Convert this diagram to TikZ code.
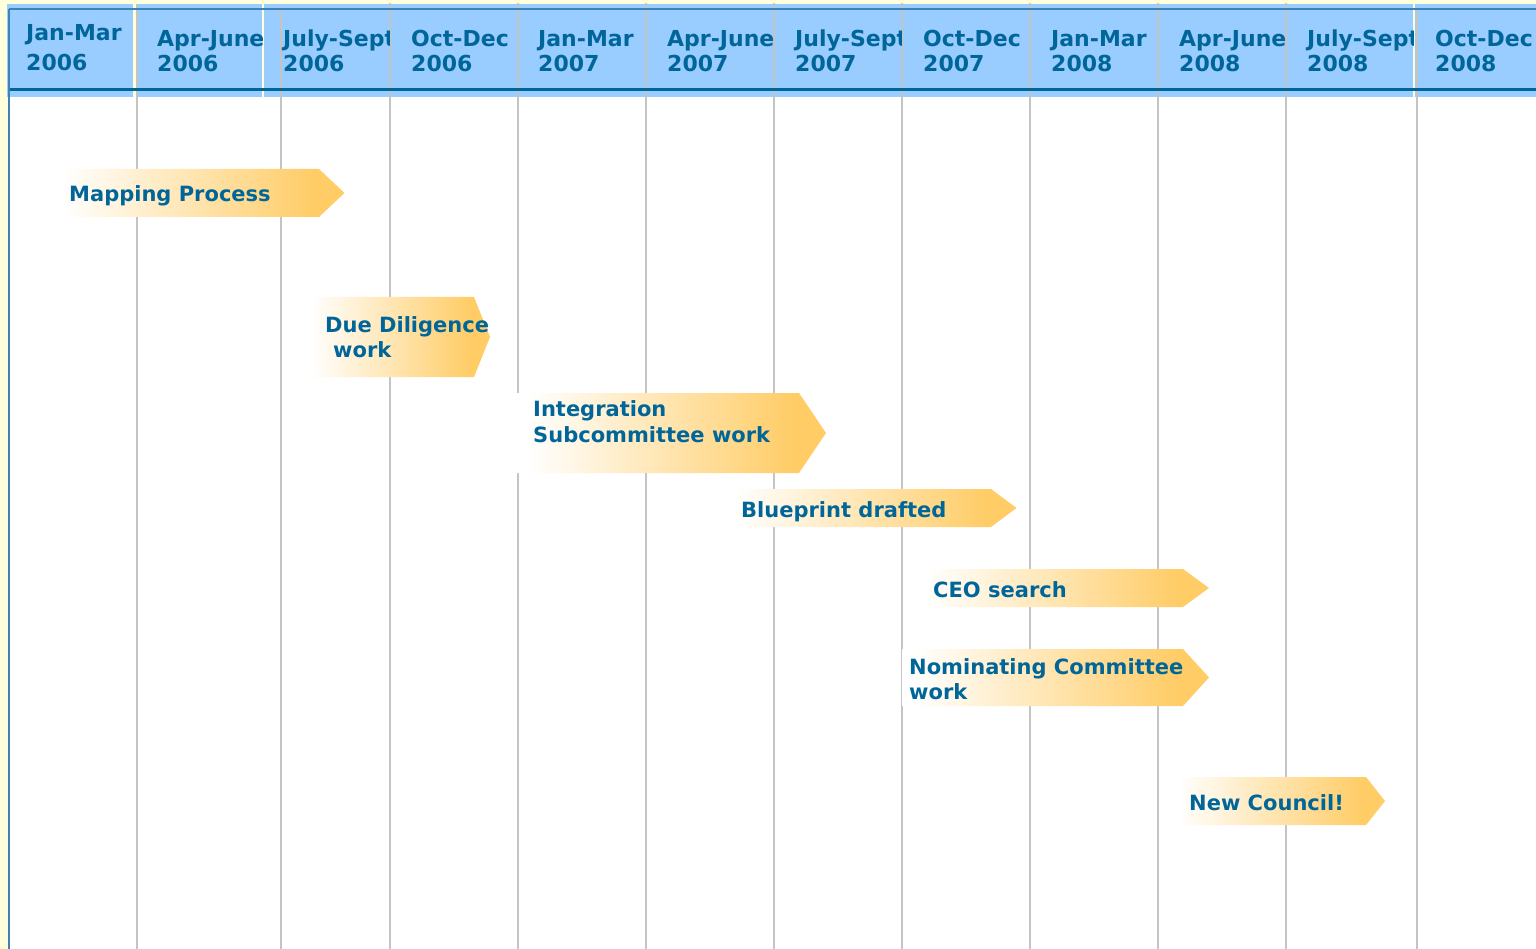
\documentclass[tikz,border=0pt]{standalone}
\usepackage{fontspec}
\setmainfont{DejaVu Sans}
\definecolor{hdrblue}{HTML}{99CCFF}
\definecolor{txtblue}{HTML}{006699}
\definecolor{gridgray}{HTML}{C4C4C4}
\definecolor{bgyellow}{HTML}{FFFFDC}
\definecolor{edgeblue}{HTML}{3F82B8}
\definecolor{arrowor}{HTML}{FFCC66}
\pgfdeclarehorizontalshading{taskshade}{100bp}{color(0bp)=(white); color(25bp)=(white); color(27bp)=(white); color(70bp)=(arrowor); color(100bp)=(arrowor)}
\tikzset{
  hdr/.style={font=\bfseries\fontsize{22}{22}\selectfont, text=txtblue, anchor=base west, inner sep=0pt},
  tasktxt/.style={font=\bfseries\fontsize{21}{21}\selectfont, text=txtblue, anchor=base west, inner sep=0pt},
  taskbox/.style={shading=taskshade, draw=none},
  gridline/.style={draw=gridgray, line width=2pt},
}
\begin{document}
\begin{tikzpicture}[x=1pt,y=-1pt]
\useasboundingbox (0,0) rectangle (1536,949);
% background
\fill[bgyellow] (0,0) rectangle (1536,949);
\fill[white] (9,97) rectangle (1536,949);
% header blocks
\fill[hdrblue] (7,4) rectangle (133,97);
\fill[hdrblue] (136.5,4) rectangle (262,97);
\fill[hdrblue] (263.5,4) rectangle (1413,97);
\fill[hdrblue] (1415,4) rectangle (1536,97);
% grid lines
\draw[gridline] (137,4) -- (137,949);
\draw[gridline] (281,10) -- (281,949);
\foreach \gx in {389.5,518,646,774,902,1030,1158,1286}
  \draw[gridline] (\gx,3) -- (\gx,949);
\draw[gridline] (1416.5,9) -- (1416.5,949);
% header rules
\draw[edgeblue, line width=1.5pt] (9,9) -- (1536,9);
\draw[txtblue, line width=3.5pt] (9,89.5) -- (1536,89.5);
\draw[edgeblue, line width=2pt] (9,9) -- (9,949);
% header texts
\begin{scope}\clip (10,4) rectangle (133,88);
  \node[hdr] (q1a) at (26,40.5) {Jan-Mar};
  \node[hdr] (q1b) at (26,71) {2006};
\end{scope}
\begin{scope}\clip (140,4) rectangle (262,88);
  \node[hdr] (q2a) at (157,47) {Apr-June};
  \node[hdr] (q2b) at (157,72) {2006};
\end{scope}
\begin{scope}\clip (270,4) rectangle (389,88);
  \node[hdr] (q3a) at (283,47) {July-Sept};
  \node[hdr] (q3b) at (283,72) {2006};
\end{scope}
\begin{scope}\clip (395,4) rectangle (517,88);
  \node[hdr] (q4a) at (411,47) {Oct-Dec};
  \node[hdr] (q4b) at (411,72) {2006};
\end{scope}
\begin{scope}\clip (520,4) rectangle (645,88);
  \node[hdr] (q5a) at (538,47) {Jan-Mar};
  \node[hdr] (q5b) at (538,72) {2007};
\end{scope}
\begin{scope}\clip (648,4) rectangle (773,88);
  \node[hdr] (q6a) at (667,47) {Apr-June};
  \node[hdr] (q6b) at (667,72) {2007};
\end{scope}
\begin{scope}\clip (776,4) rectangle (901,88);
  \node[hdr] (q7a) at (795,47) {July-Sept};
  \node[hdr] (q7b) at (795,72) {2007};
\end{scope}
\begin{scope}\clip (904,4) rectangle (1029,88);
  \node[hdr] (q8a) at (923,47) {Oct-Dec};
  \node[hdr] (q8b) at (923,72) {2007};
\end{scope}
\begin{scope}\clip (1032,4) rectangle (1157,88);
  \node[hdr] (q9a) at (1051,47) {Jan-Mar};
  \node[hdr] (q9b) at (1051,72) {2008};
\end{scope}
\begin{scope}\clip (1160,4) rectangle (1285,88);
  \node[hdr] (q10a) at (1179,47) {Apr-June};
  \node[hdr] (q10b) at (1179,72) {2008};
\end{scope}
\begin{scope}\clip (1288,4) rectangle (1413,88);
  \node[hdr] (q11a) at (1307,47) {July-Sept};
  \node[hdr] (q11b) at (1307,72) {2008};
\end{scope}
\begin{scope}\clip (1418,4) rectangle (1536,88);
  \node[hdr] (q12a) at (1435,47) {Oct-Dec};
  \node[hdr] (q12b) at (1435,72) {2008};
\end{scope}
% task arrows
\path[taskbox] (50,169) -- (319,169) -- (344.5,193) -- (319,217) -- (50,217) -- cycle;
\path[taskbox] (303,297) -- (474,297) -- (490,337) -- (474,377) -- (303,377) -- cycle;
\path[taskbox] (516,393) -- (799,393) -- (826,433) -- (799,473) -- (516,473) -- cycle;
\path[taskbox] (724,489) -- (991,489) -- (1016.5,508) -- (991,527) -- (724,527) -- cycle;
\path[taskbox] (915,569) -- (1183,569) -- (1209,588) -- (1183,607) -- (915,607) -- cycle;
\path[taskbox] (902,649) -- (1183,649) -- (1209,677.5) -- (1183,706) -- (902,706) -- cycle;
\path[taskbox] (1169,777) -- (1366,777) -- (1385,801) -- (1366,825) -- (1169,825) -- cycle;
% task texts
\node[tasktxt] (t1) at (69,202) {Mapping Process};
\node[tasktxt] (t2a) at (325,333) {Due Diligence};
\node[tasktxt] (t2b) at (333,357) {work};
\node[tasktxt] (t3a) at (533,416) {Integration};
\node[tasktxt] (t3b) at (533,442) {Subcommittee work};
\node[tasktxt] (t4) at (741,517) {Blueprint drafted};
\node[tasktxt] (t5) at (933,597) {CEO search};
\node[tasktxt] (t6a) at (909,674.5) {Nominating Committee};
\node[tasktxt] (t6b) at (909,699) {work};
\node[tasktxt] (t7) at (1189,810) {New Council!};
\end{tikzpicture}
\end{document}
